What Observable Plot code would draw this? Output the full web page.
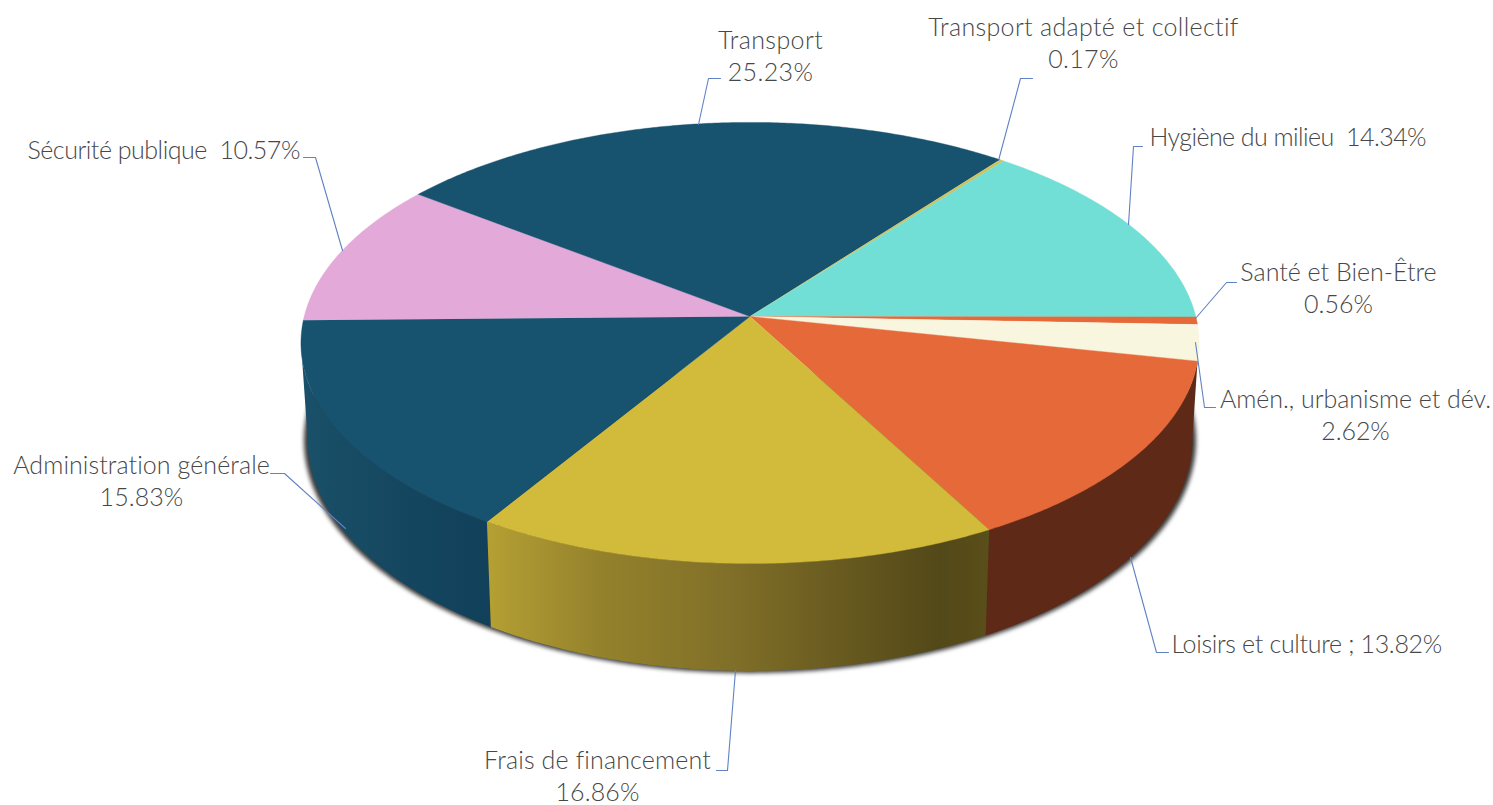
<!DOCTYPE html>
<html>
<head>
<meta charset="utf-8">
<script src="https://cdn.jsdelivr.net/npm/d3@7"></script>
<script src="https://cdn.jsdelivr.net/npm/@observablehq/plot@0.6"></script>
<style>
html,body{margin:0;padding:0;background:#fff;overflow:hidden}
svg{display:block}
</style>
</head>
<body>
<div id="chart"></div>
<script>
// Data, clockwise from the left edge of the pie
const categories = ["Sécurité publique","Transport","Transport adapté et collectif","Hygiène du milieu","Santé et Bien-Être","Amén., urbanisme et dév.","Loisirs et culture","Frais de financement","Administration générale"];
const values = [10.57,25.23,0.17,14.34,0.56,2.62,13.82,16.86,15.83];
const separators = ["  ","\n","\n","  ","\n","\n"," ; ","\n","\n"];
const topColors = ["#e3a9d9","#17526f","#cfc25a","#71dfd5","#e6693a","#f8f6de","#e6693a","#d2bb3a","#17526f"];

// Layout (separate from the data)
const W = 1493, H = 805;
const pie = {cx:749.5, cy:316, A:445.8, B:217.4, k:0.12, startDeg:-181, sx:0.985, sy:1.05, baseY:411};
const labelAnchor = ["start","middle","middle","start","middle","middle","start","middle","middle"];
const labelX = [27,770,1083,1149,1338,1355,1171,597,141];
const labelY = [148,54,41.5,135,286,413.5,642,774.5,479];
const labelSpacing = [-0.48,0.4,0.33,-0.56,0,-0.05,-0.33,0.15,0.08];
const leaderX = [[303,315,342],[720,708,698],[1032,1020,998],[1142,1133,1128],[1236,1226,1195],[1215,1204,1195],[1168,1156,1130],[716,727,735],[270,284,345]];
const leaderY = [[157,157,250],[78,78,124],[78,78,160],[146,146,224],[282,282,318],[407,407,342],[652,652,557],[770,770,670],[473,473,528]];

const rad = d => d * Math.PI / 180;
function topPt(deg){
  const u = Math.cos(rad(deg)), v = Math.sin(rad(deg)), w = 1 - pie.k * v;
  return {x: pie.cx + pie.A * u / w, y: pie.cy + pie.B * v / w};
}
function basePt(deg){
  const p = topPt(deg);
  return {x: pie.cx + (p.x - pie.cx) * pie.sx, y: pie.baseY + (p.y - pie.cy) * pie.sy};
}
function arc(fn, a, b){
  const n = Math.max(2, Math.ceil(Math.abs(b - a) / 0.5));
  return d3.range(n + 1).map(i => fn(a + (b - a) * i / n));
}
const total = d3.sum(values);
let cum = pie.startDeg;
const slices = values.map((v, i) => {
  const a = cum, b = cum + v / total * 360;
  cum = b;
  return {i, a, b, name: categories[i]};
});
const polyTop = s => [{x: pie.cx, y: pie.cy}, ...arc(topPt, s.a, s.b)];
const sideAngle = Math.asin(pie.k) * 180 / Math.PI;     // where the rim turns away
const side = (a, b) => [...arc(topPt, a, b), ...arc(basePt, b, a)];

const loisirs = slices[6], frais = slices[7], admin = slices[8];
const loisirsSide = [...arc(topPt, loisirs.a, loisirs.b), ...arc(basePt, loisirs.b, sideAngle)];
const fraisSide = side(frais.a, frais.b);
const adminSide = side(admin.a, 180 - sideAngle);
const shadow = arc(d => { const p = basePt(d); return {x: p.x + (p.x - pie.cx) * 0.006, y: p.y + 1}; }, -10, 190);

const defs = () => {
  const d = d3.create("svg:defs");
  const grad = (id, stops) => {
    const g = d.append("linearGradient").attr("id", id).attr("x1", 0).attr("x2", 1).attr("y1", 0).attr("y2", 0);
    stops.forEach(([o, c]) => g.append("stop").attr("offset", o).attr("stop-color", c));
  };
  grad("gFrais", [[0,"#b5a033"],[0.22,"#95822c"],[0.5,"#7f6e28"],[0.75,"#63561e"],[0.9,"#534818"],[1,"#5a4f19"]]);
  grad("gAdmin", [[0,"#1a5069"],[0.55,"#15465f"],[1,"#11415a"]]);
  return d.node();
};

const marks = [
  defs,
  Plot.line(shadow, {x:"x", y:"y", fill:"#3a3a3a", stroke:"#3a3a3a", strokeWidth:2, imageFilter:"blur(2.2px)"}),
  Plot.line(loisirsSide, {x:"x", y:"y", fill:"#5e2a17", stroke:"#5e2a17", strokeWidth:0.4}),
  Plot.line(adminSide, {x:"x", y:"y", fill:"url(#gAdmin)"}),
  Plot.line(fraisSide, {x:"x", y:"y", fill:"url(#gFrais)"}),
  ...slices.map(s => Plot.line(polyTop(s), {x:"x", y:"y", fill:topColors[s.i], stroke:topColors[s.i], strokeWidth:0.4})),
  ...leaderX.map((xs, i) => Plot.line(xs.map((x, j) => ({x, y: leaderY[i][j]})), {x:"x", y:"y", stroke:"#5f82c4", strokeWidth:1.1})),
  ...categories.map((c, i) => Plot.text([`${c}${separators[i]}${values[i].toFixed(2)}%`], {
    x:[labelX[i]], y:[labelY[i]], text:d => d,
    textAnchor:labelAnchor[i], lineHeight:1.29, fill:"#474747", fontWeight:300,
    fontFamily:"Lato", fontSize:25
  }))
];

const chart = Plot.plot({
  width:W, height:H, margin:0,
  x:{domain:[0,W], range:[0,W], axis:null},
  y:{domain:[0,H], range:[0,H], axis:null},
  style:{background:"#fff"},
  marks
});
d3.select(chart).selectAll('g[aria-label="text"]').each(function(_, i){
  this.style.letterSpacing = labelSpacing[i] + "px";
});
document.getElementById("chart").append(chart);
</script>
</body>
</html>
